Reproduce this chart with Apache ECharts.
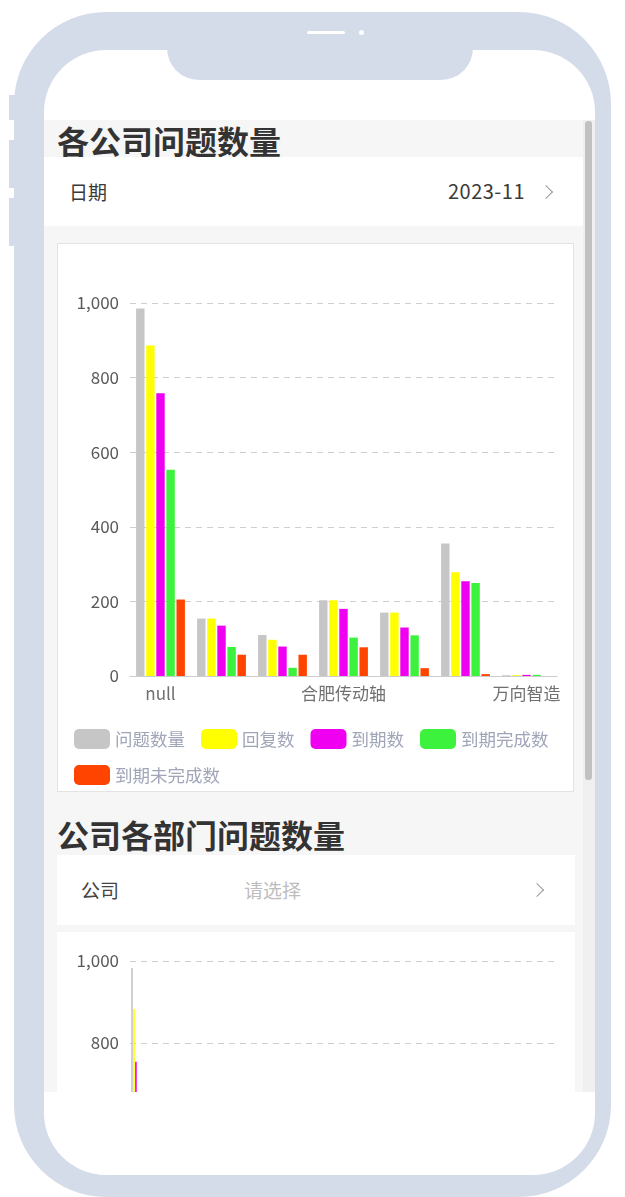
<!DOCTYPE html>
<html>
<head>
<meta charset="utf-8">
<script src="https://cdn.jsdelivr.net/npm/echarts@6/dist/echarts.min.js"></script>
<style>
  html, body { margin: 0; padding: 0; background: #ffffff; }
  body { width: 625px; height: 1197px; position: relative; overflow: hidden;
         font-family: 'Noto Sans CJK SC', 'Noto Sans', sans-serif; }
  .abs { position: absolute; }
  .frame { left: 14px; top: 12px; width: 597px; height: 1185px; background: #d5dce9; border-radius: 92px; }
  .btn { left: 9px; width: 7px; background: #d5dce9; }
  .screen { left: 44px; top: 50px; width: 551px; height: 1125px; background: #ffffff; border-radius: 62px; overflow: hidden; }
  .notch { left: 167px; top: 12px; width: 306px; height: 68px; background: #d5dce9; border-radius: 0 0 32px 32px; }
  .speaker { left: 307px; top: 31px; width: 38px; height: 3px; background: #fff; border-radius: 2px; }
  .dot { left: 359px; top: 30px; width: 5px; height: 5px; background: #fff; border-radius: 50%; }
  .pagebg { left: 44px; top: 120px; width: 539px; height: 972px; background: #f6f6f6; }
  .title { font-size: 32px; font-weight: 700; color: #333; line-height: 40px; white-space: nowrap; }
  .row { background: #ffffff; }
  .lbl { font-size: 19px; color: #3a3a3a; line-height: 24px; white-space: nowrap; }
  .chev { width: 9px; height: 9px; border-top: 1.6px solid #999; border-right: 1.6px solid #999; transform: rotate(45deg); }
  .box1 { left: 57px; top: 243px; width: 515px; height: 547px; border: 1px solid #e3e3e3; background: #fff; }
  .wrap2 { left: 57px; top: 932px; width: 518px; height: 160px; background: #fff; overflow: hidden; }
  .track { left: 583px; top: 120px; width: 12px; height: 972px; background: #f0f0f0; }
  .thumb { left: 585px; top: 121px; width: 7px; height: 659px; background: #c1c1c3; border-radius: 3px; }
</style>
</head>
<body>
<div class="abs frame"></div>
<div class="abs btn" style="top:95px;height:25px;"></div>
<div class="abs btn" style="top:140px;height:48px;"></div>
<div class="abs btn" style="top:198px;height:48px;"></div>
<div class="abs screen"></div>
<div class="abs notch"></div>
<div class="abs speaker"></div>
<div class="abs dot"></div>

<div class="abs pagebg"></div>
<div class="abs title" style="left:57px;top:120px;">各公司问题数量</div>
<div class="abs row" style="left:44px;top:157px;width:539px;height:69px;"></div>
<div class="abs lbl" style="left:69px;top:180px;">日期</div>
<div class="abs lbl" style="right:100px;top:179px;font-size:20px;letter-spacing:0.5px;">2023-11</div>
<div class="abs chev" style="left:541px;top:187px;"></div>

<div class="abs box1"><div id="c1" style="width:515px;height:547px;"></div></div>

<div class="abs title" style="left:57px;top:814px;">公司各部门问题数量</div>
<div class="abs row" style="left:57px;top:855px;width:518px;height:70px;"></div>
<div class="abs lbl" style="left:81px;top:878px;color:#444;">公司</div>
<div class="abs lbl" style="left:244px;top:878px;color:#bdbdbd;">请选择</div>
<div class="abs chev" style="left:532px;top:885px;"></div>

<div class="abs wrap2"><div id="c2" style="width:518px;height:554px;"></div></div>

<div class="abs track"></div>
<div class="abs thumb"></div>

<script>
// ---- Chart 1 data: 各公司问题数量 ----
const companies = ['null', '公司二', '公司三', '合肥传动轴', '公司五', '公司六', '万向智造'];
const seriesNames = ['问题数量', '回复数', '到期数', '到期完成数', '到期未完成数'];
const issueCount    = [985, 154, 110, 203, 170, 355, 2];
const replyCount    = [886, 154, 97, 203, 170, 278, 2];
const dueCount      = [758, 135, 79, 180, 130, 254, 3];
const dueDoneCount  = [553, 78, 22, 103, 109, 249, 3];
const dueOpenCount  = [205, 57, 57, 77, 21, 5, 0];
const yTicks = [0, 200, 400, 600, 800, 1000];

// ---- Chart 2 data: 公司各部门问题数量 (only first department visible) ----
const departments = ['null'].concat(Array.from({length: 35}, (_, i) => '部门' + (i + 2)));
const deptIssue = [983];
const deptReply = [883];
const deptDue   = [754];
const deptDone  = [553];
const deptOpen  = [205];

const colors = ['#c6c6c6', '#ffff00', '#f000f0', '#3df23d', '#ff4400'];
const FONT = "'Noto Sans CJK SC', 'Noto Sans', sans-serif";

function makeOption(cats, data, grid, withLegend, labelInterval) {
  return {
    animation: false,
    color: colors,
    textStyle: { fontFamily: FONT },
    grid: grid,
    legend: withLegend ? {
      show: true, left: 16, top: 485, width: 500, padding: 0,
      itemWidth: 36, itemHeight: 20, itemGap: 16,
      icon: 'roundRect',
      textStyle: { fontSize: 17.5, color: '#a0a5b8', fontFamily: FONT },
      data: seriesNames
    } : { show: false },
    xAxis: {
      type: 'category', data: cats,
      axisLine: { lineStyle: { color: '#cccccc' } },
      axisTick: { show: false },
      axisLabel: { interval: labelInterval, fontSize: 17, color: '#707070', margin: 9 }
    },
    yAxis: {
      type: 'value', min: yTicks[0], max: yTicks[yTicks.length - 1], interval: 200,
      axisLine: { show: false }, axisTick: { show: false },
      axisLabel: { fontSize: 17, color: '#5a5a5a', margin: 11 },
      splitLine: { lineStyle: { color: '#cfcfcf', type: [6, 5] } }
    },
    series: seriesNames.map((n, i) => ({
      name: n, type: 'bar', data: data[i],
      barGap: '20%', barCategoryGap: '20%'
    }))
  };
}

const c1 = echarts.init(document.getElementById('c1'), null, { renderer: 'canvas' });
c1.setOption(makeOption(companies,
  [issueCount, replyCount, dueCount, dueDoneCount, dueOpenCount],
  { left: 72, right: 16, top: 59, bottom: 115, containLabel: false }, true, 2));

const c2 = echarts.init(document.getElementById('c2'), null, { renderer: 'canvas' });
c2.setOption(makeOption(departments,
  [deptIssue, deptReply, deptDue, deptDone, deptOpen],
  { left: 73, right: 18, top: 29, bottom: 115, containLabel: false }, false, 2));
</script>
</body>
</html>
